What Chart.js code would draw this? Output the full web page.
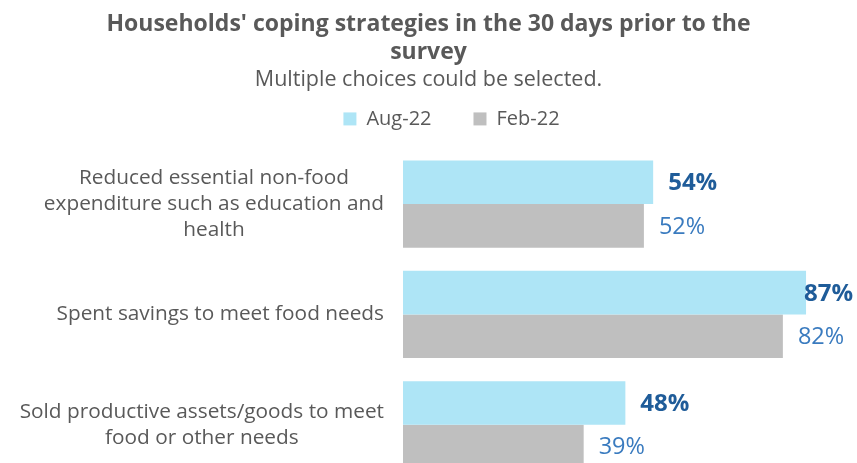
<!DOCTYPE html>
<html>
<head>
<meta charset="utf-8">
<script src="https://cdn.jsdelivr.net/npm/chart.js@4/dist/chart.umd.min.js"></script>
<style>
  html, body { margin: 0; padding: 0; background: #fff; overflow: hidden; }
  #wrap { width: 857px; height: 480px; position: relative; }
</style>
</head>
<body>
<div id="wrap"><canvas id="Chart1"></canvas></div>
<script>
// values
const categories = [
  ['Reduced essential non-food', 'expenditure such as education and', 'health'],
  ['Spent savings to meet food needs'],
  ['Sold productive assets/goods to meet', 'food or other needs']
];
const aug22 = [54, 87, 48];
const feb22 = [52, 82, 39];
const seriesNames = ['Aug-22', 'Feb-22'];

const grey = '#595959';
const font = 'Open Sans';

// draws the % numbers at the end of the bars
const valueLabels = {
  id: 'valueLabels',
  afterDatasetsDraw(chart) {
    const ctx = chart.ctx;
    const maxRight = chart.width - 4;
    ctx.save();
    ctx.textBaseline = 'middle';
    ctx.textAlign = 'left';
    chart.data.datasets.forEach(function(ds, di) {
      const meta = chart.getDatasetMeta(di);
      meta.data.forEach(function(bar, i) {
        if (di === 0) {
          ctx.font = 'bold 24px ' + font;
          ctx.fillStyle = '#1F5C99';
        } else {
          ctx.font = '23.5px ' + font;
          ctx.fillStyle = '#3A7BBF';
        }
        const txt = ds.data[i] + '%';
        // keep the label inside the picture, like the original does for 87%
        const x = Math.min(bar.x + 15, maxRight - ctx.measureText(txt).width);
        ctx.fillText(txt, x, bar.y + 1);
      });
    });
    ctx.restore();
  }
};

// category text: block right aligned, lines centred inside the block
const categoryLabels = {
  id: 'categoryLabels',
  afterDraw(chart) {
    const ctx = chart.ctx;
    const yScale = chart.scales.y;
    const right = 384;
    const lh = 26;
    ctx.save();
    ctx.font = '20.8px ' + font;
    ctx.fillStyle = grey;
    ctx.textAlign = 'center';
    ctx.textBaseline = 'middle';
    categories.forEach(function(lines, i) {
      const y = yScale.getPixelForValue(i);
      let w = 0;
      lines.forEach(function(l) { w = Math.max(w, ctx.measureText(l).width); });
      const cx = right - w / 2;
      const y0 = y - (lines.length - 1) * lh / 2;
      lines.forEach(function(l, k) { ctx.fillText(l, cx, y0 + k * lh); });
    });
    ctx.restore();
  }
};

// the legend sits a bit right of centre in the original
const legendShift = {
  id: 'legendShift',
  afterLayout(chart) {
    chart.legend.left += 23;
    chart.legend.right += 23;
  }
};

const ctx = document.getElementById('Chart1').getContext('2d');
new Chart(ctx, {
  type: 'bar',
  data: {
    labels: categories.map(function(c) { return c.join(' '); }),
    datasets: [
      {
        label: seriesNames[0],
        data: aug22,
        backgroundColor: '#AEE5F6',
        categoryPercentage: 0.79,
        barPercentage: 1
      },
      {
        label: seriesNames[1],
        data: feb22,
        backgroundColor: '#BFBFBF',
        categoryPercentage: 0.79,
        barPercentage: 1
      }
    ]
  },
  options: {
    indexAxis: 'y',
    responsive: true,
    maintainAspectRatio: false,
    animation: false,
    layout: { padding: 0 },
    plugins: {
      tooltip: { enabled: false },
      title: {
        display: true,
        text: ["Households' coping strategies in the 30 days prior to the", 'survey'],
        color: grey,
        font: { family: font, size: 23, weight: 'bold', lineHeight: 1.22 },
        padding: { top: 10, bottom: 0 }
      },
      subtitle: {
        display: true,
        text: 'Multiple choices could be selected.',
        color: grey,
        font: { family: font, size: 21.5, lineHeight: 1.2 },
        padding: { top: 1, bottom: 0 }
      },
      legend: {
        position: 'top',
        labels: {
          color: grey,
          font: { family: font, size: 20 },
          boxWidth: 13,
          boxHeight: 13,
          padding: 16,
          generateLabels(chart) {
            const items = Chart.defaults.plugins.legend.labels.generateLabels(chart);
            items[0].text += '     ';
            return items;
          }
        }
      }
    },
    scales: {
      // hidden top axis, only keeps the gap under the legend
      x: {
        position: 'top',
        min: 0,
        max: 98,
        grid: { display: false },
        border: { display: false },
        ticks: { display: false },
        afterFit(scale) { scale.height = 10; }
      },
      y: {
        grid: { display: false },
        border: { display: false },
        ticks: { display: false },
        afterFit(scale) { scale.width = 403; }
      }
    }
  },
  plugins: [valueLabels, categoryLabels, legendShift]
});
</script>
</body>
</html>
